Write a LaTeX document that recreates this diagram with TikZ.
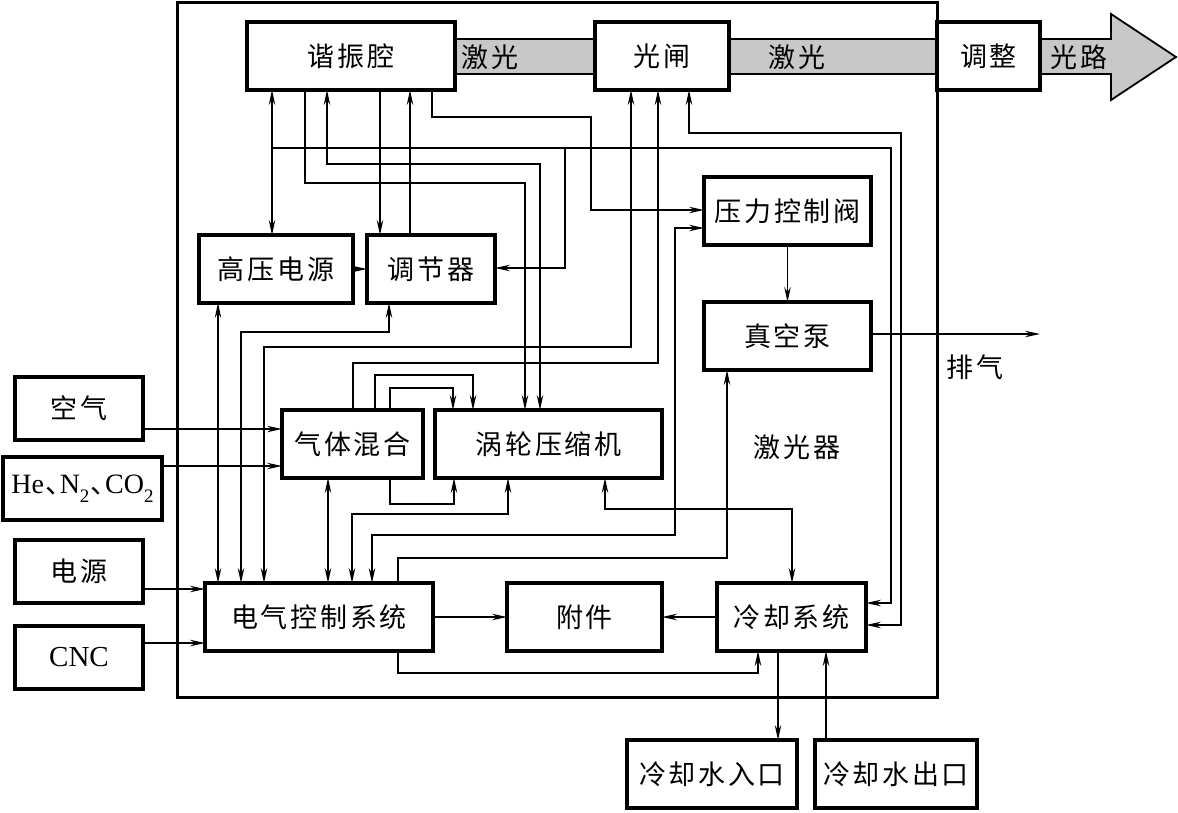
\documentclass[tikz,border=0pt]{standalone}
\usepackage{fontspec}
\setmainfont{Liberation Serif}
\newfontfamily\cjk[LetterSpace=10]{Noto Sans CJK SC}
\newfontfamily\cjkp{Noto Sans CJK SC}
\usetikzlibrary{arrows.meta,calc}
\pgfdeclarelayer{bg}
\pgfsetlayers{bg,main}
\definecolor{bandgray}{RGB}{200,200,200}
\newcommand\mysub[1]{\raisebox{-0.32em}{\fontsize{19}{19}\selectfont #1}}
\newcommand\dun{\hspace{0.04em}\makebox[0.52em][l]{\cjkp 、}}
\begin{document}
\begin{tikzpicture}[x=1pt,y=-1pt,
  >={Stealth[length=15pt,width=6.5pt,inset=5pt]},
  blk/.style={draw,line width=3.3pt,inner sep=0pt,outer sep=0pt,minimum height=68pt,font=\cjk\fontsize{27}{30}\selectfont},
  sblk/.style={blk,minimum height=63pt},
  con/.style={line width=1.2pt},
  arr/.style={con,->},
  darr/.style={con,<->},
  lbl/.style={font=\cjk\fontsize{27}{30}\selectfont,inner sep=0pt},
  band/.style={fill=bandgray,draw,line width=1.8pt}]
\useasboundingbox (0,0) rectangle (1178,812);

% frame
\node[draw,line width=3pt,inner sep=0pt,outer sep=0pt,minimum width=760pt,minimum height=695pt] (frame) at (557,349.5) {};

% blocks
\node[blk,minimum width=208pt] (xq) at (351,56) {谐振腔};
\node[blk,minimum width=134pt] (gz) at (662,56) {光闸};
\node[blk,minimum width=103pt] (tz) at (988.5,56) {调整};
\node[blk,minimum width=167pt] (yl) at (787.5,211) {压力控制阀};
\node[blk,minimum width=167pt] (zk) at (787.5,336) {真空泵};
\node[blk,minimum width=154pt] (gy) at (276,269) {高压电源};
\node[blk,minimum width=128pt] (tj) at (431,269) {调节器};
\node[blk,minimum width=141pt] (qt) at (352.5,444) {气体混合};
\node[blk,minimum width=227pt] (wl) at (548.5,444) {涡轮压缩机};
\node[blk,minimum width=228pt] (dq) at (319,617) {电气控制系统};
\node[blk,minimum width=155pt] (fj) at (584.5,617) {附件};
\node[blk,minimum width=149pt] (lq) at (791.5,617) {冷却系统};
\node[blk,minimum width=170pt] (rk) at (712,774) {冷却水入口};
\node[blk,minimum width=162pt] (ck) at (896,774) {冷却水出口};
\node[sblk,minimum width=128pt] (kq) at (79,408.5) {空气};
\node[sblk,minimum width=159pt,font=\fontsize{28}{32}\selectfont] (he) at (82.5,488.5)
  {He\dun N\mysub{2}\dun CO\mysub{2}};
\node[sblk,minimum width=128pt] (dy) at (79,571.5) {电源};
\node[sblk,minimum width=128pt,font=\fontsize{29}{32}\selectfont] (cnc) at (79,657.5) {CNC};

% labels
\node[lbl] (jg1) at (490,57) {激光};
\node[lbl] (jg2) at (797,57) {激光};
\node[lbl] (gl) at (1079,57) {光路};
\node[lbl] (jgq) at (797,447) {激光器};
\node[lbl] (pq) at (975,367) {排气};
\coordinate (pqe) at (1040,334);

% gray laser bands
\begin{pgfonlayer}{bg}
\draw[band] (xq.east |- 0,39) rectangle (gz.west |- 0,74);
\draw[band] (gz.east |- 0,39) rectangle (tz.west |- 0,74);
\draw[band] (tz.east |- 0,39) -- (1111,39) -- (1111,14) -- (1176,57) -- (1111,100) -- (1111,74) -- (tz.east |- 0,74) -- cycle;
\end{pgfonlayer}

% junction coordinates
\coordinate (j1) at (272,148);
\coordinate (j2) at (565,148);

% resonator connections
\draw[darr] (xq.south -| 272,0) -- (gy.north -| 272,0);
\draw[arr] (j1) -| (891,603) -- (lq.east |- 0,603);
\draw[arr] (j2) |- (tj.east |- 0,268);
\draw[arr] (xq.south -| 305,0) |- (525,183) -- (wl.north -| 525,0);
\draw[darr] (xq.south -| 327,0) |- (540,164) -- (wl.north -| 540,0);
\draw[arr] (xq.south -| 380,0) -- (tj.north -| 380,0);
\draw[arr] (tj.north -| 410,0) -- (xq.south -| 410,0);
\draw[arr] (xq.south -| 432,0) |- (591,117) |- (yl.west |- 0,210);

% shutter connections
\draw[darr] (dq.north -| 264,0) |- (631,347) -- (gz.south -| 631,0);
\draw[arr] (qt.north -| 353,0) |- (658,363) -- (gz.south -| 658,0);
\draw[darr] (lq.east |- 0,625) -| (901,133) -| (gz.south -| 689,0);

% gas mixing to compressor
\draw[arr] (qt.north -| 375,0) |- (473,375) -- (wl.north -| 473,0);
\draw[arr] (qt.north -| 390,0) |- (453,388) -- (wl.north -| 453,0);
\draw[arr] (qt.south -| 390,0) |- (454,504) -- (wl.south -| 454,0);

% electrical control
\draw[darr] (gy.south -| 218,0) -- (dq.north -| 218,0);
\draw[darr] (dq.north -| 241,0) |- (389,332) -- (tj.south -| 389,0);
\draw[darr] (qt.south -| 328,0) -- (dq.north -| 328,0);
\draw[darr] (dq.north -| 352,0) |- (508,514) -- (wl.south -| 508,0);
\draw[darr] (dq.north -| 372,0) |- (675,535) |- (yl.west |- 0,228);
\draw[arr] (dq.north -| 398,0) |- (727,558) -- (zk.south -| 727,0);
\draw[darr] (wl.south -| 605,0) |- (792,509) -- (lq.north -| 792,0);
\draw[arr] (dq.east) -- (fj.west);
\draw[arr] (lq.west) -- (fj.east);
\draw[arr] (dq.south -| 398,0) |- (758,673) -- (lq.south -| 758,0);
\draw[arr] (lq.south -| 778,0) -- (rk.north -| 778,0);
\draw[arr] (ck.north -| 826,0) -- (lq.south -| 826,0);
\draw[arr] (gy.east) -- (tj.west);

% pressure valve, pump, exhaust
\draw[arr] (yl.south) -- (zk.north);
\draw[arr] (zk.east |- pqe) -- (pqe);

% external inputs
\draw[arr] (kq.east |- 0,429) -- (qt.west |- 0,429);
\draw[arr] (he.east |- 0,466) -- (qt.west |- 0,466);
\draw[arr] (dy.east |- 0,589) -- (dq.west |- 0,589);
\draw[arr] (cnc.east |- 0,643) -- (dq.west |- 0,643);
\end{tikzpicture}
\end{document}
